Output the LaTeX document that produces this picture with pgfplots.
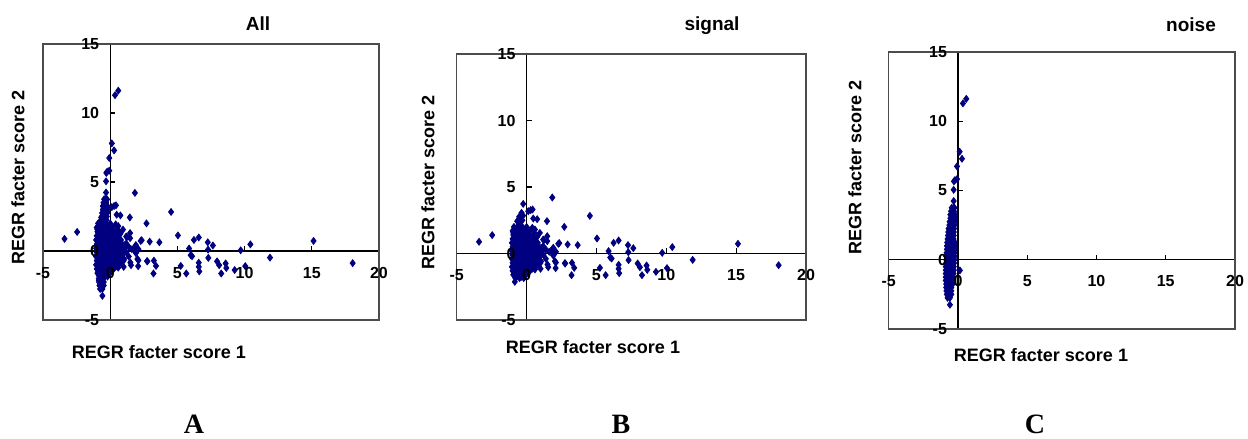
\documentclass[border=0pt]{standalone}
\usepackage{pgfplots}
\pgfplotsset{compat=1.18}
\usepackage{pgfplotstable}
\usepackage{fontspec}
\setmainfont{Liberation Sans}
\newfontfamily\letterfont{Liberation Serif}
\definecolor{navy}{RGB}{0,0,128}

\pgfplotstableread{
x y
-3.40 0.88
-2.46 1.38
-0.24 3.73
1.84 4.21
0.29 3.26
0.43 3.31
0.12 3.18
-0.36 3.06
-0.41 2.86
-0.67 2.43
-0.53 2.76
-0.25 2.85
-0.50 2.30
-0.30 2.50
-0.60 2.10
0.48 2.63
0.76 2.58
1.46 2.43
2.70 2.00
4.53 2.83
5.04 1.13
6.23 0.80
6.59 0.98
7.26 0.63
7.64 0.40
10.43 0.48
15.13 0.73
9.71 0.05
5.87 0.18
7.28 0.10
6.09 -0.38
5.99 -0.30
7.30 -0.50
11.89 -0.48
18.04 -0.88
6.59 -0.85
6.59 -1.15
6.63 -1.48
7.95 -0.75
8.11 -1.03
8.59 -0.90
8.64 -1.23
8.26 -1.63
9.26 -1.38
10.05 -1.10
5.66 -1.63
5.25 -1.08
3.25 -0.70
3.41 -1.08
3.22 -1.63
2.74 -0.73
2.10 -0.68
2.08 -1.10
2.94 0.68
3.66 0.63
2.27 0.73
2.34 0.78
1.48 1.30
1.24 1.00
-0.84 -2.13
0.41 1.93
0.55 1.55
0.76 1.25
1.19 1.05
1.48 0.93
1.03 0.43
1.38 0.30
1.74 0.18
2.10 0.13
0.60 1.80
0.95 1.55
1.19 0.55
1.91 0.43
1.62 0.13
2.03 0.05
0.67 -0.45
1.03 -0.58
1.50 -0.83
2.03 -0.58
1.55 -1.03
2.77 -0.75
1.00 -1.15
0.60 -1.20
1.38 -0.40
1.91 -0.15
-0.90 2.00
-0.60 2.00
-0.30 2.00
0.00 2.00
-1.00 1.70
-0.70 1.70
-0.40 1.70
-0.10 1.70
0.20 1.70
-0.95 1.40
-0.65 1.40
-0.35 1.40
-0.05 1.40
0.25 1.40
-1.00 1.10
-0.70 1.10
-0.40 1.10
-0.10 1.10
0.20 1.10
0.50 1.10
-1.05 0.80
-0.75 0.80
-0.45 0.80
-0.15 0.80
0.15 0.80
0.45 0.80
0.80 0.80
-1.00 0.50
-0.70 0.50
-0.40 0.50
-0.10 0.50
0.20 0.50
0.50 0.50
0.85 0.50
-1.05 0.20
-0.75 0.20
-0.45 0.20
-0.15 0.20
0.15 0.20
0.45 0.20
0.75 0.20
1.10 0.20
-1.00 -0.10
-0.70 -0.10
-0.40 -0.10
-0.10 -0.10
0.20 -0.10
0.50 -0.10
0.80 -0.10
1.20 -0.10
-1.05 -0.40
-0.75 -0.40
-0.45 -0.40
-0.15 -0.40
0.15 -0.40
0.45 -0.40
0.75 -0.40
-1.00 -0.70
-0.70 -0.70
-0.40 -0.70
-0.10 -0.70
0.20 -0.70
0.55 -0.70
1.00 -0.70
-1.05 -1.00
-0.75 -1.00
-0.45 -1.00
-0.15 -1.00
0.20 -1.00
0.60 -1.00
-1.00 -1.30
-0.70 -1.30
-0.40 -1.30
-0.10 -1.30
0.25 -1.30
-0.95 -1.60
-0.65 -1.60
-0.35 -1.60
-0.05 -1.60
-0.80 -1.85
-0.50 -1.85
-0.20 -1.85
-0.85 1.85
-0.55 1.85
-0.25 1.85
-0.95 1.55
-0.55 1.55
-0.25 1.55
0.05 1.55
-0.85 1.25
-0.55 1.25
-0.25 1.25
0.05 1.25
0.35 1.25
-0.90 0.95
-0.60 0.95
-0.30 0.95
0.00 0.95
0.30 0.95
0.60 0.95
-0.90 0.65
-0.60 0.65
-0.30 0.65
0.00 0.65
0.30 0.65
0.65 0.65
-0.90 0.35
-0.60 0.35
-0.30 0.35
0.00 0.35
0.30 0.35
0.60 0.35
0.95 0.35
-0.90 0.05
-0.60 0.05
-0.30 0.05
0.00 0.05
0.30 0.05
0.65 0.05
1.00 0.05
-0.90 -0.25
-0.60 -0.25
-0.30 -0.25
0.00 -0.25
0.30 -0.25
0.60 -0.25
0.95 -0.25
-0.90 -0.55
-0.60 -0.55
-0.30 -0.55
0.00 -0.55
0.35 -0.55
0.80 -0.55
-0.90 -0.85
-0.60 -0.85
-0.30 -0.85
0.00 -0.85
0.40 -0.85
0.80 -0.85
-0.90 -1.15
-0.60 -1.15
-0.30 -1.15
0.05 -1.15
0.40 -1.15
-0.85 -1.45
-0.55 -1.45
-0.25 -1.45
0.10 -1.45
-0.70 -1.75
-0.35 -1.75
}\signal

\pgfplotstableread{
x y
0.36 11.29
0.60 11.62
0.12 7.80
0.29 7.29
-0.07 6.74
-0.22 5.75
-0.07 5.82
-0.29 5.66
-0.31 5.05
-0.31 4.24
-0.34 3.73
-0.31 3.51
0.14 -0.77
-0.58 -3.25
-0.45 3.75
-0.25 3.75
-0.50 3.50
-0.30 3.50
-0.55 3.25
-0.35 3.25
-0.20 3.25
-0.55 3.00
-0.35 3.00
-0.20 3.00
-0.60 2.75
-0.40 2.75
-0.22 2.75
-0.62 2.50
-0.42 2.50
-0.25 2.50
-0.68 2.25
-0.48 2.25
-0.28 2.25
-0.70 2.00
-0.50 2.00
-0.30 2.00
-0.72 1.75
-0.52 1.75
-0.30 1.75
-0.75 1.50
-0.55 1.50
-0.32 1.50
-0.78 1.25
-0.58 1.25
-0.35 1.25
-0.22 1.25
-0.80 1.00
-0.60 1.00
-0.40 1.00
-0.22 1.00
-0.80 0.75
-0.60 0.75
-0.40 0.75
-0.22 0.75
-0.82 0.50
-0.62 0.50
-0.42 0.50
-0.25 0.50
-0.85 0.25
-0.65 0.25
-0.45 0.25
-0.25 0.25
-0.85 0.00
-0.65 0.00
-0.45 0.00
-0.25 0.00
-0.85 -0.25
-0.65 -0.25
-0.45 -0.25
-0.28 -0.25
-0.88 -0.50
-0.68 -0.50
-0.48 -0.50
-0.30 -0.50
-0.88 -0.75
-0.68 -0.75
-0.48 -0.75
-0.30 -0.75
-0.88 -1.00
-0.68 -1.00
-0.48 -1.00
-0.32 -1.00
-0.88 -1.25
-0.68 -1.25
-0.50 -1.25
-0.35 -1.25
-0.88 -1.50
-0.70 -1.50
-0.50 -1.50
-0.35 -1.50
-0.85 -1.75
-0.68 -1.75
-0.50 -1.75
-0.38 -1.75
-0.85 -2.00
-0.65 -2.00
-0.48 -2.00
-0.83 -2.25
-0.65 -2.25
-0.48 -2.25
-0.80 -2.50
-0.62 -2.50
-0.48 -2.50
-0.75 -2.75
-0.58 -2.75
}\noise

\pgfplotsset{
  panel/.style={
    scale only axis,
    axis lines=middle,
    xmin=-5, xmax=20, ymin=-5, ymax=15,
    xtick={-5,0,5,10,15,20},
    ytick={-5,0,5,10,15},
    hide obscured x ticks=false,
    hide obscured y ticks=false,
    tick align=inside,
    major tick length=2.5pt,
    axis line style={-, line width=0.6pt, black},
    every inner x axis line/.append style={-},
    every inner y axis line/.append style={-},
    tick style={black, line width=0.6pt},
    ticklabel style={font=\fontsize{8}{9.5}\selectfont\bfseries},
    /pgf/number format/assume math mode=true,
    xticklabel style={yshift=-4.5pt},
    yticklabel style={xshift=-2pt},
    clip=false,
  },
  noticklabels/.style={xticklabels={}, yticklabels={}},
  labelsonly/.style={
    axis line style={draw=none},
    every inner x axis line/.append style={draw=none},
    every inner y axis line/.append style={draw=none},
    tick style={draw=none},
  },
  pts/.style={only marks, mark=diamond*, mark size=1.7pt, color=navy, mark options={draw=navy, fill=navy}},
}

\begin{document}
\begin{tikzpicture}
\path[use as bounding box] (0,0) rectangle (624pt,219.5pt);

% Panel A
\begin{axis}[panel, noticklabels, width=168pt, height=138pt, at={(21.5pt,59.5pt)}, anchor=south west]
\addplot[pts] table[x=x,y=y] {\signal};
\addplot[pts] table[x=x,y=y] {\noise};
\draw[black!70, line width=0.6pt] (rel axis cs:0,0) rectangle (rel axis cs:1,1);
\end{axis}
\begin{axis}[panel, labelsonly, width=168pt, height=138pt, at={(21.5pt,59.5pt)}, anchor=south west]
\end{axis}

% Panel B
\begin{axis}[panel, noticklabels, width=174.65pt, height=133pt, at={(228.35pt,59.5pt)}, anchor=south west]
\addplot[pts] table[x=x,y=y] {\signal};
\draw[black!70, line width=0.6pt] (rel axis cs:0,0) rectangle (rel axis cs:1,1);
\end{axis}
\begin{axis}[panel, labelsonly, width=174.65pt, height=133pt, at={(228.35pt,59.5pt)}, anchor=south west]
\end{axis}

% Panel C
\begin{axis}[panel, noticklabels, width=173.15pt, height=138.5pt, at={(444.35pt,55pt)}, anchor=south west]
\addplot[pts] table[x=x,y=y] {\noise};
\draw[black!70, line width=0.6pt] (rel axis cs:0,0) rectangle (rel axis cs:1,1);
\end{axis}
\begin{axis}[panel, labelsonly, width=173.15pt, height=138.5pt, at={(444.35pt,55pt)}, anchor=south west]
\end{axis}

\begin{scope}[every node/.style={font=\fontsize{9.5}{11}\selectfont\bfseries, inner sep=0pt}]
\node at (129pt,207.5pt) {All};
\node at (356pt,206.5pt) {signal};
\node at (595.5pt,207pt) {noise};
\end{scope}
\begin{scope}[every node/.style={font=\fontsize{9}{11}\selectfont\bfseries, inner sep=0pt}]
\node[rotate=90] at (9pt,131pt) {REGR facter score 2};
\node[rotate=90] at (214pt,128.5pt) {REGR facter score 2};
\node[rotate=90] at (427.5pt,136pt) {REGR facter score 2};
\node at (79.5pt,43.5pt) {REGR facter score 1};
\node at (296.5pt,46pt) {REGR facter score 1};
\node at (520.5pt,42pt) {REGR facter score 1};
\end{scope}
\begin{scope}[every node/.style={font=\letterfont\fontsize{14}{16}\selectfont\bfseries, inner sep=0pt, anchor=base}]
\node at (97pt,2.8pt) {A};
\node at (310.5pt,2.8pt) {B};
\node at (517.5pt,2.8pt) {C};
\end{scope}
\end{tikzpicture}
\end{document}
